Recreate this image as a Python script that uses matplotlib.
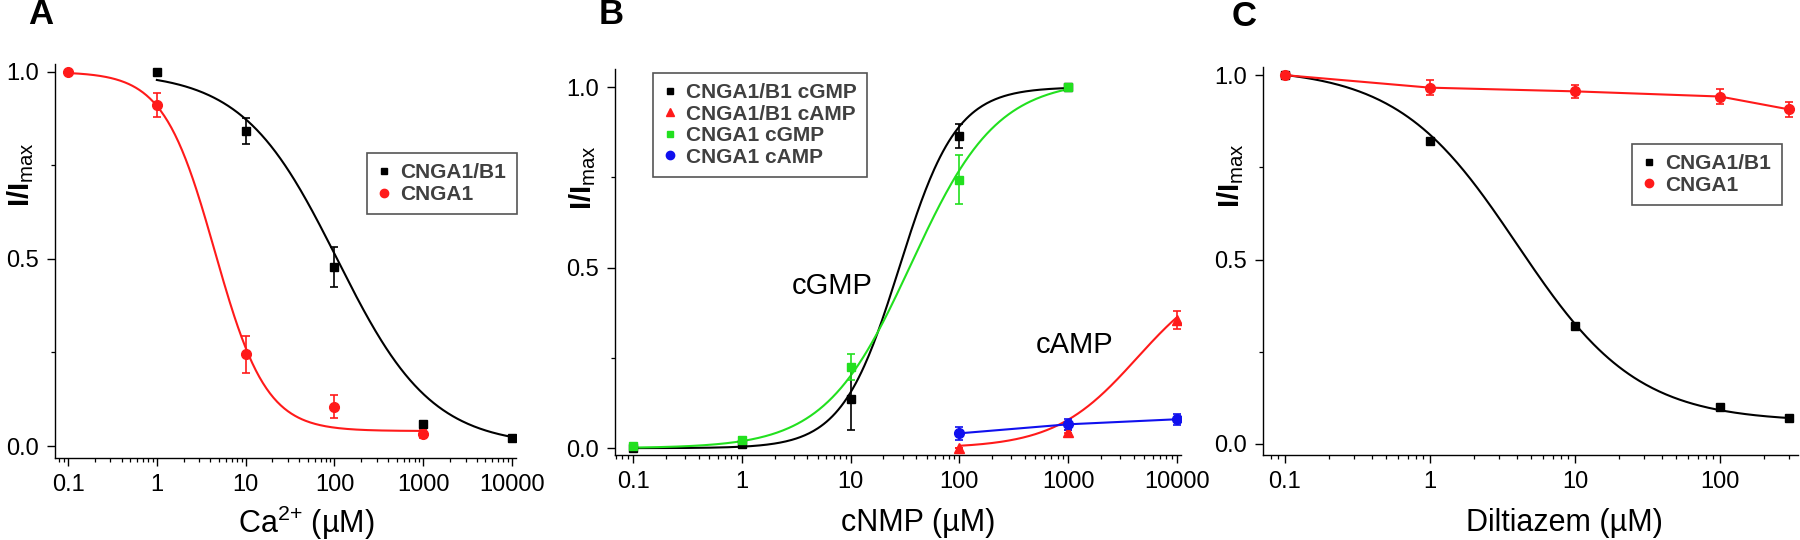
import numpy as np
import matplotlib
matplotlib.use('Agg')
import matplotlib.pyplot as plt
from matplotlib.ticker import NullFormatter
from matplotlib.lines import Line2D

plt.rcParams['font.family'] = ['Liberation Sans', 'DejaVu Sans']
plt.rcParams['mathtext.fontset'] = 'custom'
plt.rcParams['mathtext.rm'] = 'Liberation Sans'
plt.rcParams['mathtext.bf'] = 'Liberation Sans:bold'

# ---- Panel A: Ca2+ block ----
a_b1_x = [1, 10, 100, 1000, 10000]
a_b1_y = [1.0, 0.842, 0.479, 0.060, 0.022]
a_b1_err = [0.0, 0.035, 0.053, 0.006, 0.005]
a_a1_x = [0.1, 1, 10, 100, 1000]
a_a1_y = [1.0, 0.911, 0.245, 0.105, 0.033]
a_a1_err = [0.0, 0.032, 0.050, 0.030, 0.012]
# Hill fit parameters (bottom, top, K, n)
a_b1_fit = [0.0, 1.0, 107.0, 0.815]
a_a1_fit = [0.04, 1.0, 4.5, 1.5]

# ---- Panel B: cNMP activation ----
b_b1g_x = [0.1, 1, 10, 100, 1000]
b_b1g_y = [0.0, 0.012, 0.135, 0.864, 1.0]
b_b1g_err = [0.0, 0.0, 0.086, 0.033, 0.0]
b_b1a_x = [100, 1000, 10000]
b_b1a_y = [0.0, 0.045, 0.355]
b_b1a_err = [0.0, 0.004, 0.024]
b_a1g_x = [0.1, 1, 10, 100, 1000]
b_a1g_y = [0.006, 0.022, 0.224, 0.744, 1.0]
b_a1g_err = [0.004, 0.010, 0.036, 0.067, 0.0]
b_a1a_x = [100, 1000, 10000]
b_a1a_y = [0.041, 0.066, 0.080]
b_a1a_err = [0.018, 0.015, 0.015]
b_b1g_fit = [0.0, 1.0, 28.0, 1.65]
b_a1g_fit = [0.0, 1.02, 36.0, 1.1]
b_b1a_fit = [0.0, 0.5, 4300.0, 1.15]

# ---- Panel C: diltiazem block ----
c_b1_x = [0.1, 1, 10, 100, 300]
c_b1_y = [1.0, 0.822, 0.320, 0.100, 0.071]
c_b1_err = [0.0, 0.006, 0.008, 0.005, 0.005]
c_a1_x = [0.1, 1, 10, 100, 300]
c_a1_y = [1.0, 0.966, 0.956, 0.942, 0.907]
c_a1_err = [0.008, 0.020, 0.018, 0.020, 0.020]
c_b1_fit = [0.06, 1.02, 4.0, 1.05]

tick_vals = [0.1, 1, 10, 100, 1000, 10000]
tick_labs = ['0.1', '1', '10', '100', '1000', '10000']

RED = '#ff1a1a'
GREEN = '#22e01f'
BLUE = '#1010ee'


def hill_down(x, p):
    b, t, k, n = p
    return b + (t - b) / (1 + (x / k) ** n)


def hill_up(x, p):
    b, t, k, n = p
    return b + (t - b) / (1 + (k / x) ** n)


def style_axis(ax, xlim, ylim, nticks):
    ax.set_xscale('log')
    ax.set_xlim(*xlim)
    ax.set_ylim(*ylim)
    ax.set_xticks(tick_vals[:nticks], tick_labs[:nticks])
    ax.xaxis.set_minor_formatter(NullFormatter())
    ax.set_yticks([0, 0.5, 1.0], ['0.0', '0.5', '1.0'])
    ax.set_yticks([0.25, 0.75], minor=True)
    for s in ['top', 'right']:
        ax.spines[s].set_visible(False)
    for s in ['left', 'bottom']:
        ax.spines[s].set_linewidth(1.0)
    ax.tick_params(which='major', direction='out', length=5.5, width=1.0,
                   labelsize=17, pad=6)
    ax.tick_params(which='minor', direction='out', length=3, width=0.9)


def pts(ax, x, y, err, color, marker, ms):
    ax.errorbar(x, y, yerr=err, fmt=marker, color=color, ms=ms,
                capsize=3, elinewidth=1.2, capthick=1.2, zorder=4)


def legend(ax, entries, anchor):
    handles = [Line2D([], [], ls='none', marker=m, color=c, ms=s)
               for m, c, s, _ in entries]
    labels = [e[3] for e in entries]
    leg = ax.legend(handles, labels, loc='upper left', bbox_to_anchor=anchor,
                    fancybox=False, edgecolor='#555555', framealpha=1,
                    handlelength=0.6, handletextpad=0.5, borderpad=0.5,
                    labelspacing=0.12, borderaxespad=0,
                    prop={'weight': 'bold', 'size': 15})
    leg.get_frame().set_linewidth(1.2)
    for t in leg.get_texts():
        t.set_color('#404040')


fig = plt.figure(figsize=(18, 5.4), dpi=100)
axA = fig.add_axes([0.0306, 0.1519, 0.2561, 0.7296])
axB = fig.add_axes([0.3417, 0.1574, 0.3144, 0.7148])
axC = fig.add_axes([0.7017, 0.1574, 0.2972, 0.7185])

ylab = r'$\mathbf{I/I}_{\mathrm{max}}$'

# Panel A
xs = np.logspace(0, 4, 300)
axA.plot(xs, hill_down(xs, a_b1_fit), color='black', lw=1.5, zorder=2)
xs = np.logspace(-1, 3, 300)
axA.plot(xs, hill_down(xs, a_a1_fit), color=RED, lw=1.5, zorder=2)
pts(axA, a_b1_x, a_b1_y, a_b1_err, 'black', 's', 6)
pts(axA, a_a1_x, a_a1_y, a_a1_err, RED, 'o', 7)
style_axis(axA, (0.0714, 11100), (-0.032, 1.021), 6)
axA.set_xlabel('Ca$^{2{+}}$ (µM)', fontsize=22, va='center')
axA.xaxis.set_label_coords(0.544, -0.165)
axA.set_ylabel(ylab, fontsize=21, va='center')
axA.yaxis.set_label_coords(-0.074, 0.72)
legend(axA, [('s', 'black', 5, 'CNGA1/B1'), ('o', RED, 6, 'CNGA1')],
       (0.677, 0.774))

# Panel B
xs = np.logspace(-1, 3, 300)
axB.plot(xs, hill_up(xs, b_b1g_fit), color='black', lw=1.5, zorder=2)
axB.plot(xs, hill_up(xs, b_a1g_fit), color=GREEN, lw=1.5, zorder=2)
xs = np.logspace(2, 4, 300)
axB.plot(xs, hill_up(xs, b_b1a_fit), color=RED, lw=1.5, zorder=2)
axB.plot(b_a1a_x, b_a1a_y, color=BLUE, lw=1.5, zorder=2)
pts(axB, b_b1g_x, b_b1g_y, b_b1g_err, 'black', 's', 6)
pts(axB, b_b1a_x, b_b1a_y, b_b1a_err, RED, '^', 7)
pts(axB, b_a1g_x, b_a1g_y, b_a1g_err, GREEN, 's', 6)
pts(axB, b_a1a_x, b_a1a_y, b_a1a_err, BLUE, 'o', 7)
style_axis(axB, (0.0684, 10880), (-0.019, 1.05), 6)
axB.text(6.75, 0.449, 'cGMP', fontsize=21, ha='center', va='center')
axB.text(1155, 0.285, 'cAMP', fontsize=21, ha='center', va='center')
axB.set_xlabel('cNMP (µM)', fontsize=22, va='center')
axB.xaxis.set_label_coords(0.535, -0.176)
axB.set_ylabel(ylab, fontsize=21, va='center')
axB.yaxis.set_label_coords(-0.058, 0.72)
legend(axB, [('s', 'black', 5, 'CNGA1/B1 cGMP'),
             ('^', RED, 6, 'CNGA1/B1 cAMP'),
             ('s', GREEN, 5, 'CNGA1 cGMP'),
             ('o', BLUE, 6, 'CNGA1 cAMP')], (0.067, 0.99))

# Panel C
xs = np.logspace(-1, np.log10(300), 300)
axC.plot(xs, hill_down(xs, c_b1_fit), color='black', lw=1.5, zorder=2)
axC.plot(c_a1_x, c_a1_y, color=RED, lw=1.5, zorder=2)
pts(axC, c_b1_x, c_b1_y, c_b1_err, 'black', 's', 6)
pts(axC, c_a1_x, c_a1_y, c_a1_err, RED, 'o', 7)
style_axis(axC, (0.0706, 345), (-0.03, 1.022), 4)
axC.set_xlabel('Diltiazem (µM)', fontsize=22, va='center')
axC.xaxis.set_label_coords(0.563, -0.176)
axC.set_ylabel(ylab, fontsize=21, va='center')
axC.yaxis.set_label_coords(-0.06, 0.72)
legend(axC, [('s', 'black', 5, 'CNGA1/B1'), ('o', RED, 6, 'CNGA1')],
       (0.69, 0.802))

for lab, xp, yp in [('A', 41, 14), ('B', 611, 15), ('C', 1244, 16)]:
    fig.text(xp / 1800, 1 - yp / 540, lab, fontsize=25, fontweight='bold',
             ha='center', va='center')

fig.savefig('out.png', dpi=100)
